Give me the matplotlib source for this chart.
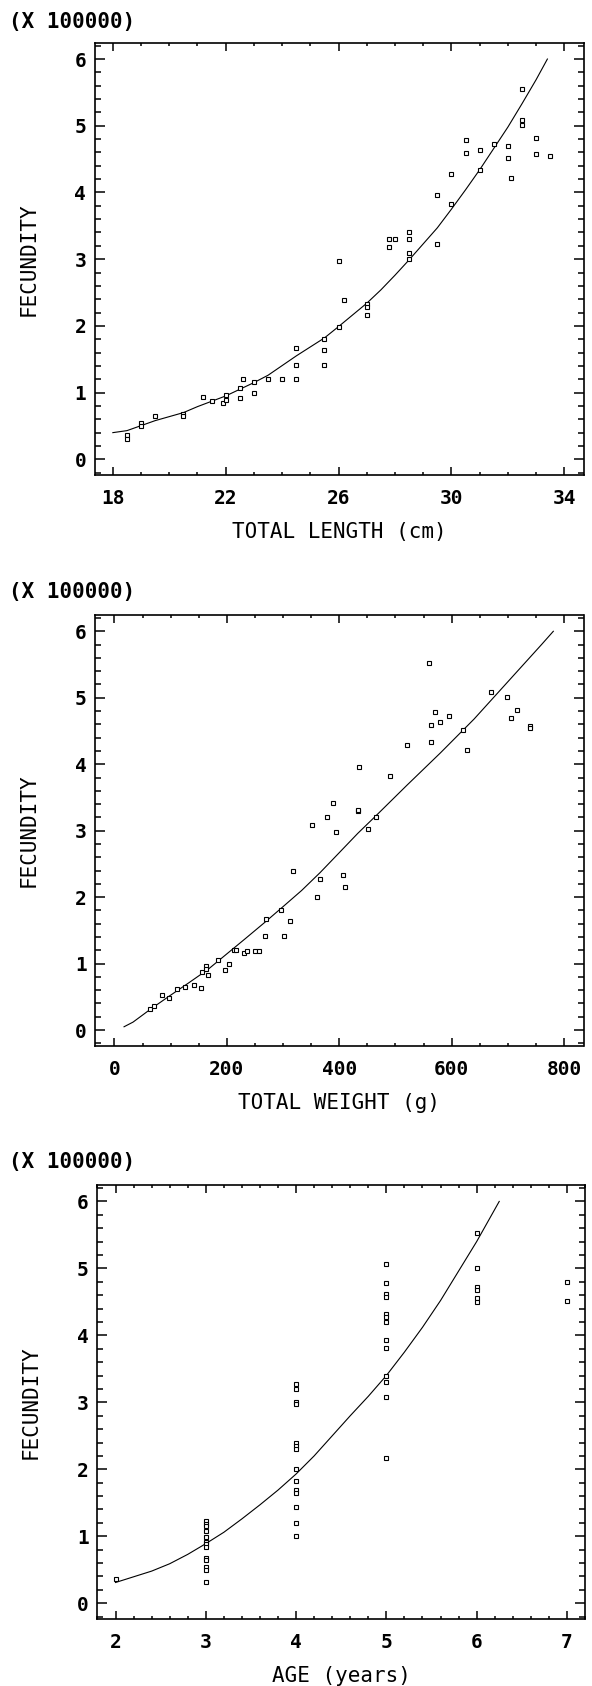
import matplotlib
matplotlib.use("Agg")
import matplotlib.pyplot as plt
from matplotlib.ticker import MultipleLocator

# fecundity values are in units of 100000 eggs, as plotted

# total length (cm) vs fecundity
length_cm = [18.5, 18.5, 19.0, 19.0, 19.5, 20.5, 20.5, 21.2, 21.5, 21.9,
             22.0, 22.0, 22.5, 22.5, 22.6, 23.0, 23.0, 23.5, 24.0, 24.5,
             24.5, 24.5, 25.5, 25.5, 25.5, 26.0, 26.0, 26.2, 27.0, 27.0,
             27.0, 27.8, 27.8, 28.0, 28.5, 28.5, 28.5, 28.5, 29.5, 29.5,
             30.0, 30.0, 30.5, 30.5, 31.0, 31.0, 31.5, 32.0, 32.0, 32.1,
             32.5, 32.5, 32.5, 33.0, 33.0, 33.5]
length_fec = [0.36, 0.31, 0.54, 0.50, 0.65, 0.68, 0.65, 0.94, 0.87, 0.84,
              0.97, 0.89, 1.07, 0.92, 1.21, 1.16, 1.00, 1.21, 1.20, 1.67,
              1.42, 1.20, 1.81, 1.64, 1.42, 1.99, 2.98, 2.39, 2.33, 2.29,
              2.17, 3.19, 3.30, 3.31, 3.41, 3.30, 3.09, 3.01, 3.23, 3.96,
              3.82, 4.28, 4.79, 4.59, 4.64, 4.33, 4.73, 4.69, 4.52, 4.21,
              5.55, 5.09, 5.01, 4.81, 4.58, 4.54]
length_fit_x = [18.0, 18.5, 19.5, 20.5, 21.0, 22.0, 23.0, 23.5, 24.5, 25.5,
                26.0, 27.0, 27.5, 28.0, 28.5, 29.0, 29.5, 30.0, 30.5, 31.0,
                31.5, 32.0, 32.5, 33.0, 33.4]
length_fit_y = [0.40, 0.43, 0.58, 0.70, 0.79, 0.95, 1.15, 1.26, 1.55, 1.82,
                1.99, 2.34, 2.54, 2.76, 2.99, 3.23, 3.47, 3.75, 4.04, 4.34,
                4.66, 4.98, 5.33, 5.69, 6.00]
length_ticks = [18, 22, 26, 30, 34]

# total weight (g) vs fecundity
weight_g = [63, 70, 85, 97, 112, 125, 141, 154, 156, 162,
            162, 166, 184, 197, 204, 212, 216, 231, 236, 250,
            258, 268, 270, 297, 302, 312, 317, 351, 361, 366,
            379, 389, 394, 407, 411, 434, 434, 436, 451, 465,
            490, 521, 560, 563, 563, 570, 580, 596, 621, 628,
            670, 698, 706, 717, 740, 740]
weight_fec = [0.31, 0.36, 0.53, 0.49, 0.62, 0.65, 0.68, 0.64, 0.88, 0.97,
              0.92, 0.83, 1.06, 0.91, 1.00, 1.20, 1.21, 1.16, 1.19, 1.19,
              1.19, 1.42, 1.67, 1.81, 1.42, 1.64, 2.39, 3.08, 2.00, 2.28,
              3.20, 3.42, 2.98, 2.34, 2.16, 3.30, 3.31, 3.96, 3.02, 3.21,
              3.82, 4.29, 5.53, 4.59, 4.33, 4.79, 4.64, 4.73, 4.52, 4.22,
              5.08, 5.01, 4.69, 4.81, 4.58, 4.54]
weight_fit_x = [17, 33, 65, 99, 132, 166, 199, 232, 266, 299, 333, 366,
                399, 433, 466, 520, 580, 640, 700, 760, 781]
weight_fit_y = [0.05, 0.12, 0.32, 0.52, 0.71, 0.91, 1.14, 1.37, 1.61, 1.85,
                2.10, 2.37, 2.66, 2.96, 3.23, 3.68, 4.17, 4.68, 5.24, 5.80, 6.00]
weight_ticks = [0, 200, 400, 600, 800]

# age (years) vs fecundity
age_yr = [2,
          3, 3, 3, 3, 3, 3, 3, 3, 3, 3, 3, 3, 3,
          4, 4, 4, 4, 4, 4, 4, 4, 4, 4, 4, 4, 4, 4,
          5, 5, 5, 5, 5, 5, 5, 5, 5, 5, 5, 5, 5,
          6, 6, 6, 6, 6, 6,
          7, 7]
age_fec = [0.36,
           1.225, 1.19, 1.16, 1.08, 0.99, 0.91, 0.88, 0.84, 0.68, 0.64, 0.545, 0.50, 0.31,
           3.28, 3.20, 3.00, 2.97, 2.39, 2.35, 2.31, 2.00, 1.82, 1.69, 1.65, 1.43, 1.20, 1.01,
           5.07, 4.78, 4.625, 4.58, 4.315, 4.275, 4.205, 3.935, 3.805, 3.40, 3.30, 3.075, 2.17,
           5.53, 5.005, 4.715, 4.675, 4.555, 4.505,
           4.795, 4.52]
age_fit_x = [2.0, 2.4, 2.6, 2.8, 3.0, 3.2, 3.4, 3.6, 3.8, 4.0, 4.2, 4.4,
             4.6, 4.8, 5.0, 5.2, 5.4, 5.6, 5.8, 6.0, 6.25]
age_fit_y = [0.31, 0.48, 0.59, 0.73, 0.89, 1.06, 1.26, 1.47, 1.69, 1.93, 2.20,
             2.50, 2.80, 3.09, 3.40, 3.75, 4.12, 4.52, 4.96, 5.40, 6.00]
age_ticks = [2, 3, 4, 5, 6, 7]

plt.rcParams['font.family'] = ['DejaVu Sans Mono']
plt.rcParams['font.weight'] = 'bold'

W, H = 592, 1686
fig = plt.figure(figsize=(W / 100, H / 100), dpi=100)


def add_panel(left, top, right, bottom):
    # positions given in pixels from the top-left corner
    return fig.add_axes([left / W, 1 - bottom / H, (right - left) / W, (bottom - top) / H])


def style(ax, xlim, xticks, xminor, xlabel, note_y):
    ax.set_xlim(*xlim)
    ax.set_ylim(-0.235, 6.245)
    ax.set_xticks(xticks)
    ax.xaxis.set_minor_locator(MultipleLocator(xminor))
    ax.yaxis.set_major_locator(MultipleLocator(1))
    ax.yaxis.set_minor_locator(MultipleLocator(0.2))
    ax.tick_params(which='both', direction='in', top=True, right=True, width=1.1)
    ax.tick_params(axis='x', which='major', length=5.8, pad=10, labelsize=14)
    ax.tick_params(axis='x', which='minor', length=2.2)
    ax.tick_params(axis='y', which='major', length=7.2, pad=6, labelsize=14)
    ax.tick_params(axis='y', which='minor', length=4.3)
    for s in ax.spines.values():
        s.set_linewidth(1.2)
    ax.set_xlabel(xlabel, fontsize=15)
    ax.xaxis.label.set_va('center')
    ax.xaxis.set_label_coords(0.5, -57 / 432)
    ax.set_ylabel('FECUNDITY', fontsize=15)
    ax.yaxis.label.set_va('center')
    ax.yaxis.set_label_coords(-0.135, 0.5)
    fig.text(9 / W, 1 - note_y / H, '(X 100000)', fontsize=15, ha='left', va='center')


pt_style = dict(ls='none', marker='s', ms=2.6, mfc='white', mec='black', mew=0.8)

ax1 = add_panel(94.5, 42.7, 583.5, 475)
ax1.plot(length_fit_x, length_fit_y, color='black', lw=0.8)
ax1.plot(length_cm, length_fec, **pt_style)
style(ax1, (17.35, 34.68), length_ticks, 1, 'TOTAL LENGTH (cm)', 21.7)

ax2 = add_panel(95, 615, 583.5, 1045.7)
ax2.plot(weight_fit_x, weight_fit_y, color='black', lw=0.8)
ax2.plot(weight_g, weight_fec, **pt_style)
style(ax2, (-34.7, 834.7), weight_ticks, 50, 'TOTAL WEIGHT (g)', 592.3)

ax3 = add_panel(97, 1185, 585, 1619)
ax3.plot(age_fit_x, age_fit_y, color='black', lw=0.8)
ax3.plot(age_yr, age_fec, **pt_style)
style(ax3, (1.795, 7.2), age_ticks, 0.2, 'AGE (years)', 1162.3)

fig.savefig('out.png', dpi=100, facecolor='white')
plt.close(fig)
